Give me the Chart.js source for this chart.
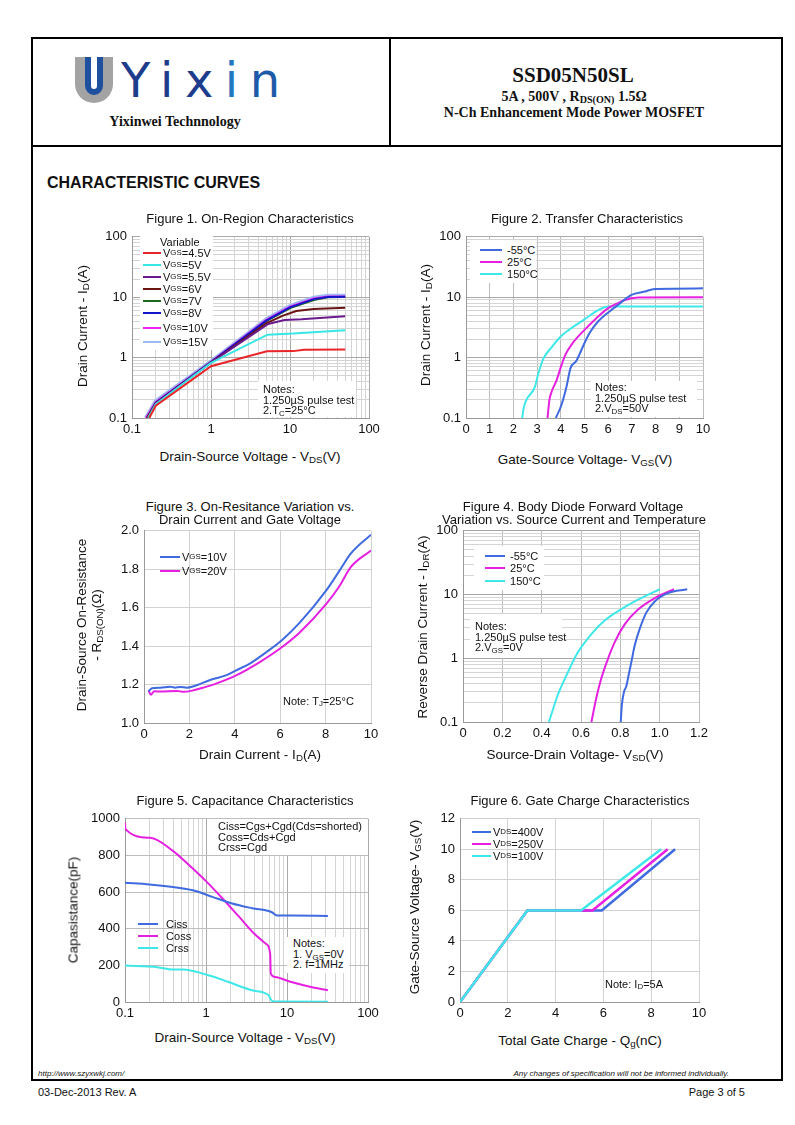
<!DOCTYPE html>
<html>
<head>
<meta charset="utf-8">
<script src="https://cdn.jsdelivr.net/npm/chart.js@4.4.1/dist/chart.umd.min.js"></script>
<style>
body { margin: 0; background: #fff; }
#page { position: relative; width: 795px; height: 1125px; overflow: hidden; font-family: "Liberation Sans", Arial, sans-serif; color: #111; }
.c { position: absolute; white-space: nowrap; transform: translate(-50%, -50%); z-index: 3; }
.l { position: absolute; white-space: nowrap; transform: translateY(-50%); z-index: 3; }
.rt { position: absolute; white-space: nowrap; transform: translate(-50%, -50%) rotate(-90deg); z-index: 3; }
.wb { position: absolute; background: #fff; z-index: 2; }
.line { position: absolute; background: #000; }
canvas { position: absolute; z-index: 1; }
sub { font-size: 0.72em; vertical-align: -0.22em; line-height: 0; }
.ft { font-size: 13px; }
.at { font-size: 13.5px; }
.nt { font-size: 11px; line-height: 10.5px; }
.leg { position: absolute; z-index: 3; transform: translateY(-50%); display: flex; align-items: center; font-size: 11px; white-space: nowrap; }
.leg .ln { display: inline-block; height: 2.5px; margin-right: 2px; }
</style>
</head>
<body>
<div id="page">
  <!-- frame -->
  <div class="line" style="left:31px;top:37px;width:752px;height:2px"></div>
  <div class="line" style="left:31px;top:1079px;width:752px;height:2px"></div>
  <div class="line" style="left:31px;top:37px;width:2px;height:1044px"></div>
  <div class="line" style="left:781px;top:37px;width:2px;height:1044px"></div>
  <div class="line" style="left:31px;top:145px;width:752px;height:2px"></div>
  <div class="line" style="left:389px;top:37px;width:2px;height:110px"></div>

  <!-- header -->
  <svg style="position:absolute;left:72px;top:55px" width="44" height="50">
    <path d="M3 2 h10 v27 a9 9 0 0 0 18 0 v-27 h10 v27 a19 19 0 0 1 -38 0 z" fill="#a3a3a3"/>
    <path d="M13 2 h6 v29 a3 3 0 0 0 6 0 v-29 h6 v29 a9 9 0 0 1 -18 0 z" fill="#1f4f9f"/>
  </svg>
  <div class="l" style="left:121px;top:80px;font:48px 'DejaVu Sans',sans-serif;letter-spacing:11.5px;color:#1d3d8c">Yix<span style="color:#2277c0">i</span><span style="color:#1e5aa8">n</span></div>
  <div class="c" style="left:175px;top:122px;font:bold 14px 'Liberation Serif',serif">Yixinwei Technnology</div>
  <div class="c" style="left:573px;top:75px;font:bold 21px 'Liberation Serif',serif">SSD05N50SL</div>
  <div class="c" style="left:574px;top:97px;font:bold 14px 'Liberation Serif',serif">5A , 500V , R<sub>DS(ON)</sub> 1.5Ω</div>
  <div class="c" style="left:574px;top:113px;font:bold 14px 'Liberation Serif',serif">N-Ch Enhancement Mode Power MOSFET</div>

  <div class="l" style="left:47px;top:183px;font:bold 16px 'Liberation Sans',Arial">CHARACTERISTIC CURVES</div>

  <!-- titles -->
  <div class="c ft" style="left:250px;top:218px">Figure 1. On-Region Characteristics</div>
  <div class="c ft" style="left:587px;top:218px">Figure 2. Transfer Characteristics</div>
  <div class="c ft" style="left:250px;top:506px">Figure 3. On-Resitance Variation vs.</div>
  <div class="c ft" style="left:250px;top:519px">Drain Current and Gate Voltage</div>
  <div class="c ft" style="left:573px;top:506px">Figure 4. Body Diode Forward Voltage</div>
  <div class="c ft" style="left:574px;top:519px">Variation vs. Source Current and Temperature</div>
  <div class="c ft" style="left:245px;top:800px">Figure 5. Capacitance Characteristics</div>
  <div class="c ft" style="left:580px;top:800px">Figure 6. Gate Charge Characteristics</div>

  <!-- axis titles -->
  <div class="c at" style="left:250px;top:456px">Drain-Source Voltage - V<sub>DS</sub>(V)</div>
  <div class="rt at" style="left:82px;top:326px">Drain Current - I<sub>D</sub>(A)</div>
  <div class="c at" style="left:585px;top:459px">Gate-Source Voltage- V<sub>GS</sub>(V)</div>
  <div class="rt at" style="left:425px;top:325px">Drain Current - I<sub>D</sub>(A)</div>
  <div class="c at" style="left:260px;top:754px">Drain Current - I<sub>D</sub>(A)</div>
  <div class="rt at" style="left:81px;top:625px">Drain-Source On-Resistance</div>
  <div class="rt at" style="left:96px;top:625px">- R<sub>DS(ON)</sub>(Ω)</div>
  <div class="c at" style="left:575px;top:754px">Source-Drain Voltage- V<sub>SD</sub>(V)</div>
  <div class="rt at" style="left:422px;top:627px">Reverse Drain Current - I<sub>DR</sub>(A)</div>
  <div class="c at" style="left:245px;top:1037px">Drain-Source Voltage - V<sub>DS</sub>(V)</div>
  <div class="rt at" style="left:73px;top:910px">Capasistance(pF)</div>
  <div class="c at" style="left:580px;top:1040px">Total Gate Charge - Q<sub>g</sub>(nC)</div>
  <div class="rt at" style="left:414px;top:907px">Gate-Source Voltage- V<sub>GS</sub>(V)</div>

  <!-- white boxes behind legends / notes -->
  <div class="wb" style="left:140px;top:236px;width:73px;height:114px"></div>
  <div class="wb" style="left:258px;top:381px;width:98px;height:36px"></div>
  <div class="wb" style="left:470px;top:240px;width:66px;height:43px"></div>
  <div class="wb" style="left:591px;top:381px;width:106px;height:36px"></div>
  <div class="wb" style="left:474px;top:546px;width:70px;height:44px"></div>
  <div class="wb" style="left:470px;top:614px;width:92px;height:44px"></div>
  <div class="wb" style="left:212px;top:819px;width:156px;height:36px"></div>
  <div class="wb" style="left:287px;top:937px;width:62px;height:36px"></div>

  <!-- notes -->
  <div class="l nt" style="left:263px;top:400px">Notes:<br>1.250µS pulse test<br>2.T<sub>C</sub>=25°C</div>
  <div class="l nt" style="left:595px;top:398px">Notes:<br>1.250µS pulse test<br>2.V<sub>DS</sub>=50V</div>
  <div class="l nt" style="left:283px;top:701px">Note: T<sub>J</sub>=25°C</div>
  <div class="l nt" style="left:475px;top:637px">Notes:<br>1.250µS pulse test<br>2.V<sub>GS</sub>=0V</div>
  <div class="l nt" style="left:218px;top:837px">Ciss=Cgs+Cgd(Cds=shorted)<br>Coss=Cds+Cgd<br>Crss=Cgd</div>
  <div class="l nt" style="left:293px;top:954px">Notes:<br>1. V<sub>GS</sub>=0V<br>2. f=1MHz</div>
  <div class="l nt" style="left:605px;top:984px">Note: I<sub>D</sub>=5A</div>
  <div class="l nt" style="left:160px;top:242px">Variable</div>

  <!-- footer -->
  <div class="l" style="left:38px;top:1073px;font:italic 8px 'Liberation Sans',Arial">http://www.szyxwkj.com/</div>
  <div class="l" style="right:66px;top:1073px;font:italic 8px 'Liberation Sans',Arial">Any changes of specification will not be informed individually.</div>
  <div class="l" style="left:38px;top:1092px;font-size:11px">03-Dec-2013 Rev. A</div>
  <div class="l" style="right:50px;top:1092px;font-size:11px">Page 3 of 5</div>

  <canvas id="f1"></canvas><canvas id="f2"></canvas><canvas id="f3"></canvas>
  <canvas id="f4"></canvas><canvas id="f5"></canvas><canvas id="f6"></canvas>
</div>
<script>
'use strict';
// ---------- data ----------

// Figure 1: ID vs VDS for several VGS
const f1Vgs45X = [0.165, 0.2, 1, 5.1, 11, 15, 50];
const f1Vgs45Y = [0.1, 0.16, 0.72, 1.27, 1.28, 1.35, 1.36];
const f1Vgs5X  = [0.16, 0.2, 1, 5.2, 11, 50];
const f1Vgs5Y  = [0.1, 0.17, 0.82, 2.4, 2.5, 2.85];
const f1Vgs55X = [0.16, 0.2, 1, 5.3, 8.5, 14, 50];
const f1Vgs55Y = [0.1, 0.175, 0.83, 3.6, 4.2, 4.3, 4.85];
const f1Vgs6X  = [0.155, 0.2, 1, 5, 8, 12, 20, 50];
const f1Vgs6Y  = [0.1, 0.175, 0.83, 3.7, 4.9, 5.9, 6.4, 6.7];
const f1Vgs7X  = [0.155, 0.2, 1, 5, 10, 20, 30, 50];
const f1Vgs7Y  = [0.1, 0.18, 0.84, 4.0, 6.6, 9.0, 10.0, 10.1];
const f1Vgs8X  = [0.155, 0.2, 1, 5, 10, 20, 30, 50];
const f1Vgs8Y  = [0.1, 0.18, 0.84, 4.1, 6.8, 9.3, 10.1, 10.2];
const f1Vgs10X = [0.15, 0.2, 1, 5, 10, 20, 30, 50];
const f1Vgs10Y = [0.1, 0.185, 0.85, 4.2, 7.0, 9.5, 10.3, 10.3];
const f1Vgs15X = [0.15, 0.2, 1, 5, 10, 20, 30, 50];
const f1Vgs15Y = [0.1, 0.19, 0.86, 4.3, 7.1, 9.8, 10.6, 10.6];

// Figure 2: ID vs VGS at three temperatures
const f2M55X = [3.79, 4.03, 4.24, 4.41, 4.66, 5.01, 5.22, 5.58, 6.0, 6.42, 6.98, 7.54, 7.96, 10];
const f2M55Y = [0.1, 0.166, 0.33, 0.67, 0.89, 1.78, 2.58, 4.0, 5.6, 7.5, 10.9, 12.4, 13.7, 14];
const f2T25X = [3.44, 3.52, 3.61, 3.82, 4.03, 4.21, 4.52, 5.01, 5.5, 6.0, 6.42, 6.7, 7.26, 10];
const f2T25Y = [0.1, 0.2, 0.27, 0.42, 0.75, 1.15, 1.78, 2.9, 4.5, 6.6, 8.0, 9.0, 9.9, 10];
const f2T150X = [2.37, 2.44, 2.91, 3.05, 3.26, 3.61, 4.03, 4.3, 5.0, 5.58, 6.0, 10];
const f2T150Y = [0.1, 0.15, 0.33, 0.54, 0.95, 1.48, 2.3, 2.8, 4.3, 6.1, 7.0, 7.0];

// Figure 3: RDS(on) vs ID
const f3Vgs10X = [0.2, 0.35, 0.72, 1.15, 1.37, 1.59, 1.89, 2.18, 2.91, 3.64, 4.08, 4.66, 5.39, 6.05, 6.86, 8.03, 8.6, 9.1, 10];
const f3Vgs10Y = [1.164, 1.181, 1.184, 1.189, 1.184, 1.187, 1.184, 1.191, 1.224, 1.249, 1.275, 1.309, 1.369, 1.428, 1.522, 1.69, 1.79, 1.88, 1.98];
const f3Vgs20X = [0.2, 0.3, 0.45, 0.72, 1.45, 1.74, 2.18, 2.62, 3.2, 4.08, 5.1, 5.98, 6.86, 8.03, 8.6, 9.1, 10];
const f3Vgs20Y = [1.17, 1.147, 1.165, 1.164, 1.167, 1.162, 1.17, 1.184, 1.206, 1.249, 1.317, 1.386, 1.471, 1.62, 1.71, 1.81, 1.898];

// Figure 4: IDR vs VSD
const f4M55X = [0.802, 0.808, 0.819, 0.83, 0.842, 0.856, 0.873, 0.898, 0.932, 0.975, 1.042, 1.14];
const f4M55Y = [0.1, 0.187, 0.3, 0.36, 0.54, 0.87, 1.58, 2.86, 5.2, 7.8, 10.5, 12.1];
const f4T25X = [0.653, 0.678, 0.703, 0.737, 0.771, 0.822, 0.89, 0.975, 1.073];
const f4T25Y = [0.1, 0.24, 0.48, 0.98, 1.78, 3.4, 5.8, 8.8, 12.1];
const f4T150X = [0.437, 0.483, 0.534, 0.585, 0.653, 0.72, 0.805, 0.89, 1.0];
const f4T150Y = [0.1, 0.27, 0.61, 1.25, 2.4, 3.9, 5.9, 8.3, 12.1];

// Figure 5: capacitance vs VDS
const f5CissX = [0.1, 0.2, 0.39, 0.69, 1.2, 2.1, 3.7, 6.5, 7.5, 11.3, 32];
const f5CissY = [651, 642, 628, 610, 574, 538, 512, 490, 472, 472, 470];
const f5CossX = [0.1, 0.101, 0.205, 0.39, 0.63, 1.0, 1.6, 2.54, 4.04, 5.6, 6.2, 6.3, 7.1, 11.3, 19.8, 32];
const f5CossY = [980, 945, 896, 825, 744, 660, 565, 467, 368, 315, 261, 157, 136, 109, 82, 64];
const f5CrssX = [0.1, 0.25, 0.39, 0.52, 1.0, 1.9, 3.7, 5.9, 6.5, 7.1, 32];
const f5CrssY = [199, 190, 177, 177, 150, 109, 64, 38, 7, 3, 2];

// Figure 6: VGS vs Qg
const f6V400X = [0, 2.82, 5.93, 9.0];
const f6V400Y = [0, 6, 6, 10];
const f6V250X = [0, 2.82, 5.54, 8.69];
const f6V250Y = [0, 6, 6, 10];
const f6V100X = [0, 2.82, 5.06, 8.41];
const f6V100Y = [0, 6, 6, 10];

// ---------- helpers ----------
const YW = 46, XH = 24, PT = 10, PR = 16;
const MAJOR = '#a9a9a9', MINOR = '#d4d4d4', LIN = '#bdbdbd';

Chart.defaults.font.family = '"Liberation Sans", Arial, sans-serif';
Chart.defaults.font.size = 13;
Chart.defaults.color = '#111';

const zip = (xs, ys) => xs.map((x, i) => ({ x: x, y: ys[i] }));
const isDecade = v => Math.abs(Math.log10(v) - Math.round(Math.log10(v))) < 1e-6;

function logGrid(loExp, hiExp) {
    const t = [];
    for (let e = loExp; e < hiExp; e++)
        for (let m = 1; m < 10; m++) t.push(+(m * Math.pow(10, e)).toPrecision(3));
    t.push(Math.pow(10, hiExp));
    return t;
}

function logAxis(loExp, hiExp) {
    const ticks = logGrid(loExp, hiExp);
    return {
        type: 'logarithmic', min: ticks[0], max: ticks[ticks.length - 1],
        afterBuildTicks: s => { s.ticks = ticks.map(v => ({ value: v })); },
        ticks: { autoSkip: false, maxRotation: 0, padding: 4,
                 callback: v => isDecade(v) ? String(v) : '' },
        grid: { drawTicks: false, color: c => (c.tick && isDecade(c.tick.value)) ? MAJOR : MINOR },
        border: { color: '#999' },
    };
}

function linAxis(min, max, step, digits, gridColor) {
    return {
        type: 'linear', min: min, max: max,
        ticks: { stepSize: step, autoSkip: false, maxRotation: 0, padding: 4,
                 callback: v => Math.abs(v) < 1e-9 ? '0' : v.toFixed(digits) },
        grid: { drawTicks: false, color: gridColor || LIN },
        border: { color: '#999' },
    };
}

function series(xs, ys, color, width, order, smooth) {
    return {
        data: zip(xs, ys), borderColor: color, borderWidth: width || 2,
        pointRadius: 0, order: order,
        cubicInterpolationMode: smooth ? 'monotone' : 'default', tension: 0,
    };
}

// box = plot-area edges in page pixels
function plot(id, box, xAxis, yAxis, datasets) {
    const cv = document.getElementById(id);
    const w = box.r - box.l + YW + PR, h = box.b - box.t + PT + XH;
    cv.width = w; cv.height = h;
    cv.style.left = (box.l - YW) + 'px'; cv.style.top = (box.t - PT) + 'px';
    cv.style.width = w + 'px'; cv.style.height = h + 'px';
    xAxis.afterFit = s => { s.height = XH; };
    yAxis.afterFit = s => { s.width = YW; };
    yAxis.ticks.padding = 5;
    return new Chart(cv, {
        type: 'line',
        data: { datasets: datasets },
        options: {
            responsive: false, animation: false,
            layout: { padding: { top: PT, right: PR, left: 0, bottom: 0 } },
            plugins: { legend: { display: false }, tooltip: { enabled: false } },
            scales: { x: xAxis, y: yAxis },
        },
    });
}

function legend(x, ys, items, lineW) {
    const page = document.getElementById('page');
    items.forEach((it, i) => {
        const row = document.createElement('div');
        row.className = 'leg';
        row.style.left = x + 'px';
        row.style.top = ys[i] + 'px';
        row.innerHTML = '<span class="ln" style="background:' + it.color + ';width:' + lineW + 'px"></span>' + it.label;
        page.appendChild(row);
    });
}

// ---------- Figure 1 ----------
const f1Items = [
    { label: 'V<sub>GS</sub>=4.5V', color: '#e8262a' },
    { label: 'V<sub>GS</sub>=5V',   color: '#38e6e6' },
    { label: 'V<sub>GS</sub>=5.5V', color: '#6a1a8c' },
    { label: 'V<sub>GS</sub>=6V',   color: '#6b1414' },
    { label: 'V<sub>GS</sub>=7V',   color: '#1c6a1c' },
    { label: 'V<sub>GS</sub>=8V',   color: '#1414cc' },
    { label: 'V<sub>GS</sub>=10V',  color: '#ee22ee' },
    { label: 'V<sub>GS</sub>=15V',  color: '#9dbbf2' },
];
plot('f1', { l: 132, r: 369, t: 234, b: 418 }, logAxis(-1, 2), logAxis(-1, 2), [
    series(f1Vgs45X, f1Vgs45Y, f1Items[0].color, 2, 1),
    series(f1Vgs5X,  f1Vgs5Y,  f1Items[1].color, 2, 2),
    series(f1Vgs55X, f1Vgs55Y, f1Items[2].color, 2, 3),
    series(f1Vgs6X,  f1Vgs6Y,  f1Items[3].color, 2, 4),
    series(f1Vgs8X,  f1Vgs8Y,  f1Items[5].color, 2, 5),
    series(f1Vgs10X, f1Vgs10Y, f1Items[6].color, 2, 6),
    series(f1Vgs7X,  f1Vgs7Y,  f1Items[4].color, 2, 7),
    series(f1Vgs15X, f1Vgs15Y, f1Items[7].color, 4, 8),
]);
legend(143, [253, 265, 277, 289, 301, 313, 328, 342], f1Items, 18);

// ---------- Figure 2 ----------
const f2Items = [
    { label: '-55°C',  color: '#3f6ae0' },
    { label: '25°C',   color: '#e620e0' },
    { label: '150°C',  color: '#3fe8e8' },
];
plot('f2', { l: 466, r: 703, t: 234, b: 418 }, linAxis(0, 10, 1, 0), logAxis(-1, 2), [
    series(f2M55X, f2M55Y, f2Items[0].color, 2, 1, true),
    series(f2T25X, f2T25Y, f2Items[1].color, 2, 2, true),
    series(f2T150X, f2T150Y, f2Items[2].color, 2, 3, true),
]);
legend(480, [250, 262, 274], f2Items.map(it => ({ label: '&nbsp;' + it.label, color: it.color })), 22);

// ---------- Figure 3 ----------
const f3Items = [
    { label: 'V<sub>GS</sub>=10V', color: '#3f6ae0' },
    { label: 'V<sub>GS</sub>=20V', color: '#e620e0' },
];
plot('f3', { l: 144, r: 371, t: 528, b: 723 }, linAxis(0, 10, 2, 0, '#d2d2d2'), linAxis(1, 2, 0.2, 1, '#d2d2d2'), [
    series(f3Vgs10X, f3Vgs10Y, f3Items[0].color, 2, 1, true),
    series(f3Vgs20X, f3Vgs20Y, f3Items[1].color, 2, 2, true),
]);
legend(160, [557, 571], f3Items, 20);

// ---------- Figure 4 ----------
const f4Items = [
    { label: '-55°C',  color: '#3f6ae0' },
    { label: '25°C',   color: '#e620e0' },
    { label: '150°C',  color: '#3fe8e8' },
];
plot('f4', { l: 463, r: 699, t: 528, b: 722 }, linAxis(0, 1.2, 0.2, 1), logAxis(-1, 2), [
    series(f4M55X, f4M55Y, f4Items[0].color, 2, 1, true),
    series(f4T25X, f4T25Y, f4Items[1].color, 2, 2, true),
    series(f4T150X, f4T150Y, f4Items[2].color, 2, 3, true),
]);
legend(485, [556, 568, 581], f4Items.map(it => ({ label: '&nbsp;' + it.label, color: it.color })), 20);

// ---------- Figure 5 ----------
const f5Items = [
    { label: 'Ciss', color: '#3f6ae0' },
    { label: 'Coss', color: '#e620e0' },
    { label: 'Crss', color: '#3fe8e8' },
];
plot('f5', { l: 125, r: 368, t: 816, b: 1002 }, logAxis(-1, 2), linAxis(0, 1000, 200, 0), [
    series(f5CissX, f5CissY, f5Items[0].color, 2, 1, true),
    series(f5CossX, f5CossY, f5Items[1].color, 2, 2, true),
    series(f5CrssX, f5CrssY, f5Items[2].color, 2, 3, true),
]);
legend(138, [924, 936, 948], f5Items.map(it => ({ label: '&nbsp;&nbsp;' + it.label, color: it.color })), 20);

// ---------- Figure 6 ----------
const f6Items = [
    { label: 'V<sub>DS</sub>=400V', color: '#3f6ae0' },
    { label: 'V<sub>DS</sub>=250V', color: '#e620e0' },
    { label: 'V<sub>DS</sub>=100V', color: '#3fe8e8' },
];
plot('f6', { l: 460, r: 699, t: 816, b: 1002 }, linAxis(0, 10, 2, 0, '#d2d2d2'), linAxis(0, 12, 2, 0, '#d2d2d2'), [
    series(f6V400X, f6V400Y, f6Items[0].color, 2.5, 3),
    series(f6V250X, f6V250Y, f6Items[1].color, 2.5, 2),
    series(f6V100X, f6V100Y, f6Items[2].color, 2.5, 1),
]);
legend(472, [832, 844, 856], f6Items, 19);
</script>
</body>
</html>
